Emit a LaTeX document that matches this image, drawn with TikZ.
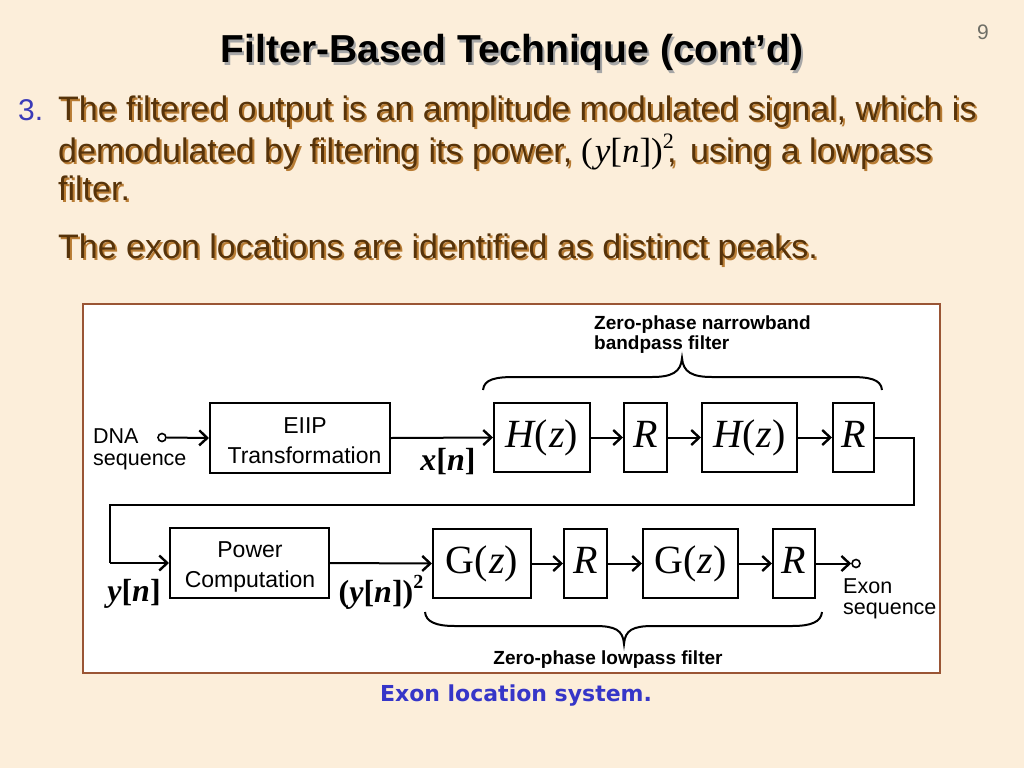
\documentclass[tikz,border=0pt]{standalone}
\usepackage{fontspec}
\setmainfont{Liberation Sans}
\newfontfamily\tms{Liberation Serif}
\newfontfamily\dvs{DejaVu Sans}
\usetikzlibrary{arrows.meta}
\definecolor{bg}{HTML}{FCEEDA}
\definecolor{bodyc}{HTML}{56330A}
\definecolor{shadc}{HTML}{B87C34}
\definecolor{numblue}{HTML}{3A3AB8}
\definecolor{capblue}{HTML}{3636C8}
\definecolor{panelc}{HTML}{9A5535}
\definecolor{pgnum}{HTML}{6E6E66}
\newcommand{\ShTxt}[4]{%
  \node[shad, anchor=base west] at (#1+2,#2+2) {#4};
  \node[body, anchor=base west] (#3) at (#1,#2) {#4};}
\begin{document}
\begin{tikzpicture}[x=1pt,y=-1pt,
  body/.style={inner sep=0, text=bodyc, font=\fontsize{34}{40}\selectfont},
  shad/.style={inner sep=0, text=shadc, font=\fontsize{34}{40}\selectfont},
  blk/.style={draw, line width=2pt, inner sep=0, minimum height=69},
  hbox/.style={blk, font=\tms\fontsize{40}{44}\selectfont, text height=28, text depth=8},
  lbl/.style={inner sep=0, font=\fontsize{23}{27}\selectfont},
  sml/.style={inner sep=0, font=\fontsize{21.5}{25}\selectfont},
  brl/.style={inner sep=0, font=\bfseries\fontsize{19}{22}\selectfont},
  sig/.style={inner sep=0, font=\tms\bfseries\fontsize{32}{36}\selectfont},
  wire/.style={line width=2pt},
  arr/.style={line width=2pt, -{Straight Barb[length=8pt,width=15pt,line width=2.4pt]}},
  brace/.style={line width=2pt},
  port/.style={circle, draw, line width=1.6pt, minimum size=8, inner sep=0}]
\useasboundingbox (0,0) rectangle (1024,768);
\fill[bg] (0,0) rectangle (1024,768);
% title
\node[inner sep=0, anchor=base, text=black!35, font=\bfseries\fontsize{39}{44}\selectfont] at (514,65) {Filter-Based Technique (cont’d)};
\node[inner sep=0, anchor=base, font=\bfseries\fontsize{39}{44}\selectfont] (title) at (512,63) {Filter-Based Technique (cont’d)};
\node[inner sep=0, anchor=base, text=pgnum, font=\fontsize{21}{24}\selectfont] (pg) at (983,40) {9};
% body text
\node[inner sep=0, anchor=base west, text=numblue, font=\fontsize{30}{34}\selectfont] (num) at (18,120) {3.};
\ShTxt{58}{120}{l1}{The filtered output is an amplitude modulated signal, which is}
\ShTxt{58}{162}{l2a}{demodulated by filtering its power,}
\node[inner sep=0, anchor=base west, font=\tms\fontsize{35}{40}\selectfont] (frm) at (581,162) {(\kern2pt{\itshape y}[{\itshape n}])\raisebox{14pt}{\fontsize{22}{24}\selectfont 2}};
\ShTxt{667}{162}{l2c}{,}
\ShTxt{690}{162}{l2b}{using a lowpass}
\ShTxt{58}{200}{l3}{filter.}
\ShTxt{58}{258}{l4}{The exon locations are identified as distinct peaks.}
% panel
\draw[draw=panelc, line width=2pt, fill=white] (83,304) rectangle (940,673);
% row 1
\node[port] (din) at (162,437.5) {};
\node[sml, anchor=base west] (dna1) at (93,443) {DNA};
\node[sml, anchor=base west] (dna2) at (93,465) {sequence};
\node[blk, minimum width=180, minimum height=70] (eiip) at (300,438) {};
\node[lbl, anchor=base] (eiipA) at (305,433) {EIIP};
\node[lbl, anchor=base] (eiipB) at (304.5,463) {Transformation};
\node[hbox, minimum width=96] (h1) at (542,437.5) {{\itshape H}(\kern1pt{\itshape z})};
\node[hbox, minimum width=43] (r1) at (645.5,437.5) {\itshape R};
\node[hbox, minimum width=95] (h2) at (749.5,437.5) {{\itshape H}(\kern1pt{\itshape z})};
\node[hbox, minimum width=41] (r2) at (853.5,437.5) {\itshape R};
\draw[arr] (din.east) -- (eiip.west);
\draw[arr] (eiip.east) -- (h1.west);
\draw[arr] (h1.east) -- (r1.west);
\draw[arr] (r1.east) -- (h2.west);
\draw[arr] (h2.east) -- (r2.west);
\node[sig, anchor=base] (xn) at (448,470) {{\itshape x}[{\itshape n}]};
% top brace
\draw[brace] (483,390) .. controls (484,379) and (496,377) .. (515,377) -- (652,377)
  .. controls (672,377) and (681,372) .. (682,358)
  .. controls (683,372) and (692,377) .. (712,377) -- (850,377)
  .. controls (869,377) and (881,379) .. (882,390);
\node[brl, anchor=base west] (bt1) at (594,329) {Zero-phase narrowband};
\node[brl, anchor=base west] (bt2) at (594,349) {bandpass filter};
% loop
\coordinate (c1) at (914,437.5);
\coordinate (c2) at (914,505);
\coordinate (c3) at (110,505);
\coordinate (c4) at (110,563);
% row 2
\node[blk, minimum width=159, minimum height=70] (pow) at (249.5,563) {};
\node[lbl, anchor=base] (powA) at (250,557) {Power};
\node[lbl, anchor=base] (powB) at (250,587) {Computation};
\node[hbox, minimum width=98] (g1) at (482,563.5) {G(\kern1pt{\itshape z})};
\node[hbox, minimum width=43] (r3) at (585.5,563.5) {\itshape R};
\node[hbox, minimum width=95] (g2) at (690.5,563.5) {G(\kern1pt{\itshape z})};
\node[hbox, minimum width=42] (r4) at (794,563.5) {\itshape R};
\node[port] (dout) at (856,563.5) {};
\draw[wire] (r2.east) -- (c1) -- (c2) -- (c3) -- (c4);
\draw[arr] (c4) -- (pow.west);
\draw[arr] (pow.east) -- (g1.west);
\draw[arr] (g1.east) -- (r3.west);
\draw[arr] (r3.east) -- (g2.west);
\draw[arr] (g2.east) -- (r4.west);
\draw[arr] (r4.east) -- (dout.west);
\node[sml, anchor=base west] (ex1) at (843,593) {Exon};
\node[sml, anchor=base west] (ex2) at (843,614) {sequence};
\node[sig, anchor=base] (yn) at (134,601) {{\itshape y}[{\itshape n}]};
\node[sig, anchor=base] (yn2) at (381,602) {({\itshape y}[{\itshape n}])\raisebox{14pt}{\fontsize{20}{22}\selectfont 2}};
% bottom brace
\draw[brace] (425,612) .. controls (426,622) and (436,626) .. (455,626) -- (595,626)
  .. controls (615,626) and (623,630) .. (624,644)
  .. controls (625,630) and (633,626) .. (653,626) -- (792,626)
  .. controls (811,626) and (821,622) .. (822,612);
\node[brl, anchor=base] (bb) at (608,664) {Zero-phase lowpass filter};
% caption
\node[inner sep=0, anchor=base, text=capblue, font=\dvs\bfseries\fontsize{22}{26}\selectfont] (cap) at (516,701) {Exon location system.};
\end{tikzpicture}
\end{document}
